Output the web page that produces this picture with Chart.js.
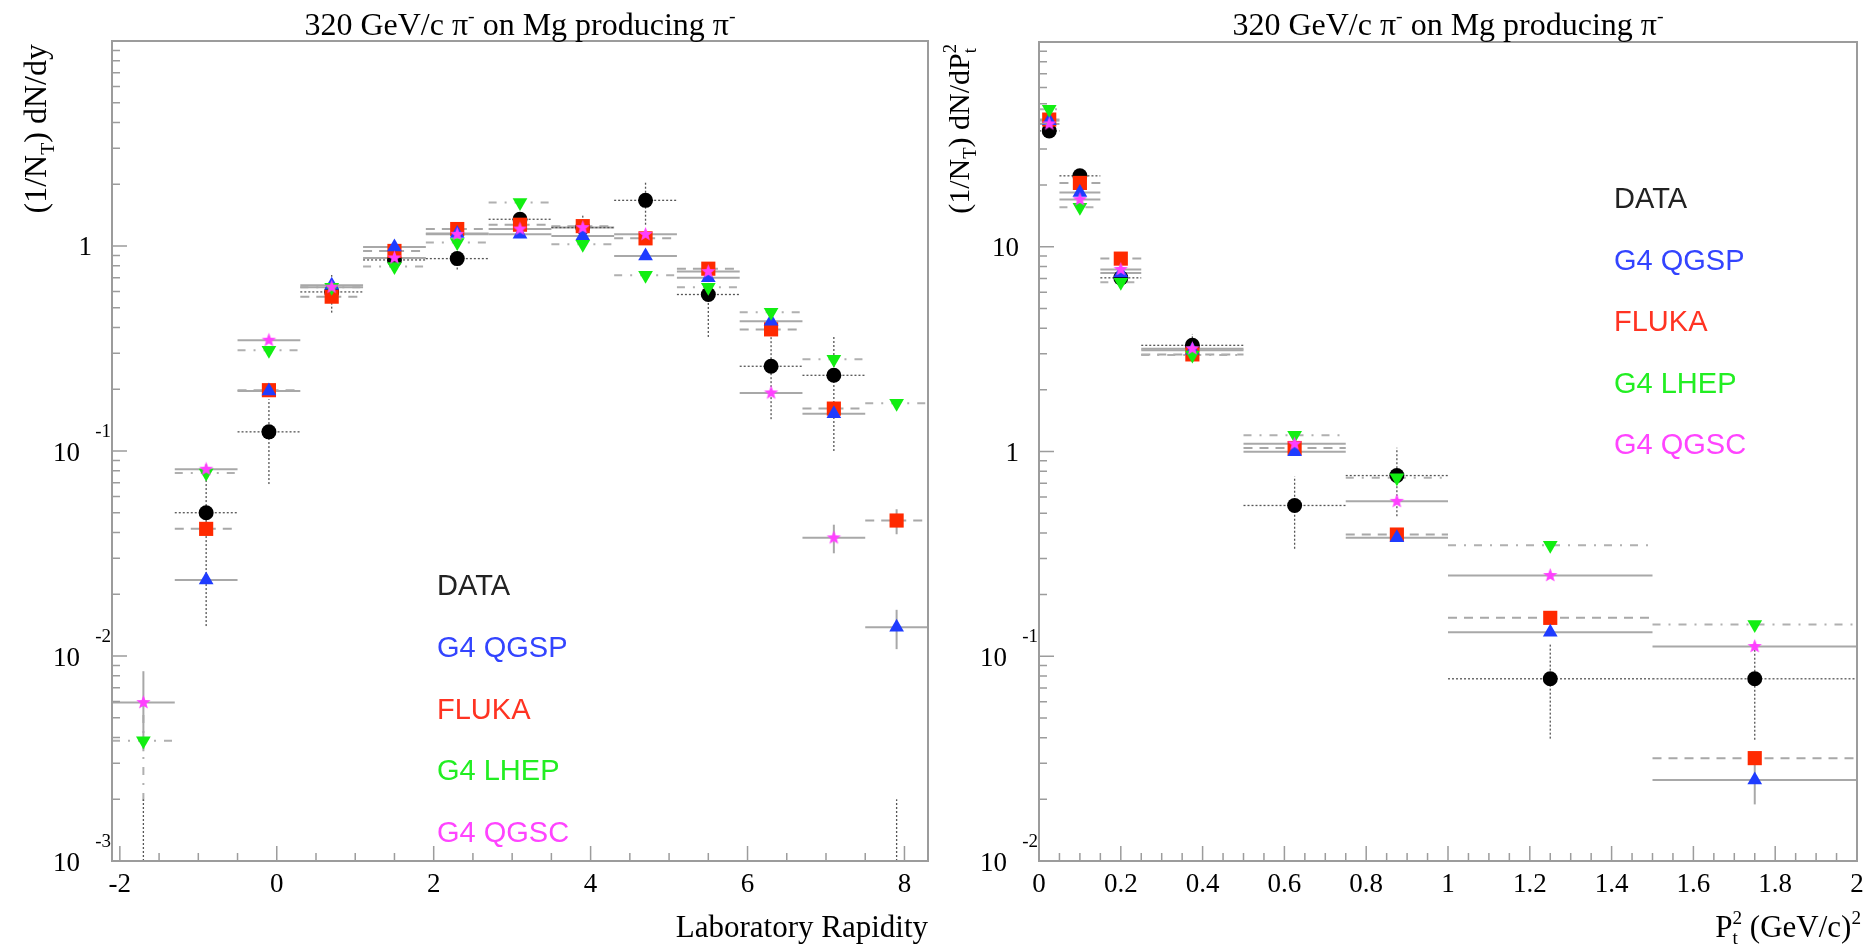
<!DOCTYPE html>
<html>
<head>
<meta charset="utf-8">
<script src="https://cdn.jsdelivr.net/npm/chart.js@4/dist/chart.umd.min.js"></script>
<style>
body{margin:0;background:#fff;}
#wrap{position:relative;width:1876px;height:949px;}
.pane{position:absolute;top:0;}
</style>
</head>
<body>
<div id="wrap">
  <canvas class="pane" id="c_rap" width="938" height="949" style="left:0"></canvas>
  <canvas class="pane" id="c_pt" width="938" height="949" style="left:938px"></canvas>
</div>
<script>
//------------------------------- data

const seriesNames = ['DATA', 'G4 QGSP', 'FLUKA', 'G4 LHEP', 'G4 QGSC'];

// laboratory rapidity bins
const rapCenters = [-1.7, -0.9, -0.1, 0.7, 1.5, 2.3, 3.1, 3.9, 4.7, 5.5, 6.3, 7.1, 7.9];
const rapHalf    = [0.4, 0.4, 0.4, 0.4, 0.4, 0.4, 0.4, 0.4, 0.4, 0.4, 0.4, 0.4, 0.4];

const rapData     = [0, 0.050, 0.124, 0.597, 0.855, 0.868, 1.35, 1.23, 1.67, 0.58, 0.259, 0.234, 0];
const rapDataErr  = [0.002, 0.036, 0.055, 0.124, 0.08, 0.10, 0.10, 0.18, 0.40, 0.22, 0.116, 0.134, 0.002];
const rapQGSP     = [0, 0.0235, 0.196, 0.643, 0.99, 1.15, 1.14, 1.12, 0.893, 0.70, 0.43, 0.152, 0.0138];
const rapQGSPErr  = [0, 0, 0, 0, 0, 0, 0, 0, 0, 0, 0, 0, 0.003];
const rapFLUKA    = [0, 0.0417, 0.198, 0.566, 0.946, 1.21, 1.27, 1.25, 1.09, 0.775, 0.392, 0.161, 0.0458];
const rapFLUKAErr = [0, 0, 0, 0, 0, 0, 0, 0, 0, 0, 0, 0, 0.0065];
const rapLHEP     = [0.00386, 0.078, 0.31, 0.63, 0.794, 1.04, 1.63, 1.02, 0.72, 0.63, 0.475, 0.28, 0.171];
const rapLHEPErr  = [0.0019, 0, 0, 0, 0, 0, 0, 0, 0, 0, 0, 0, 0];
const rapQGSC     = [0.00593, 0.0815, 0.347, 0.63, 0.875, 1.14, 1.21, 1.23, 1.14, 0.75, 0.192, 0.0377, 0];
const rapQGSCErr  = [0.0025, 0, 0, 0, 0, 0, 0, 0, 0, 0, 0, 0.006, 0];

// pt^2 bins
const ptCenters = [0.025, 0.1, 0.2, 0.375, 0.625, 0.875, 1.25, 1.75];
const ptHalf    = [0.025, 0.05, 0.05, 0.125, 0.125, 0.125, 0.25, 0.25];

const ptData     = [36.8, 22.2, 7.05, 3.30, 0.545, 0.763, 0.0776, 0.0776];
const ptDataErr  = [2.0, 1.5, 0.8, 0.45, 0.21, 0.28, 0.038, 0.0385];
const ptQGSP     = [41.3, 18.4, 7.45, 3.12, 0.997, 0.379, 0.131, 0.0249];
const ptQGSPErr  = [0, 0, 0, 0, 0, 0, 0, 0.006];
const ptFLUKA    = [41.8, 20.5, 8.75, 2.98, 1.04, 0.393, 0.154, 0.0318];
const ptFLUKAErr = [0, 0, 0, 0, 0, 0, 0, 0];
const ptLHEP     = [47.0, 15.6, 6.7, 2.96, 1.2, 0.745, 0.348, 0.143];
const ptLHEPErr  = [0, 0, 0, 0, 0, 0, 0, 0];
const ptQGSC     = [39.8, 17.0, 7.75, 3.18, 1.09, 0.571, 0.248, 0.1116];
const ptQGSCErr  = [0, 0, 0, 0, 0, 0, 0, 0];

// axis ticks
const rapTicks = [-2, 0, 2, 4, 6, 8];
const rapTickLabels = ['-2', '0', '2', '4', '6', '8'];
const ptTicks = [0, 0.2, 0.4, 0.6, 0.8, 1, 1.2, 1.4, 1.6, 1.8, 2];
const ptTickLabels = ['0', '0.2', '0.4', '0.6', '0.8', '1', '1.2', '1.4', '1.6', '1.8', '2'];
const rapDecades = [-3, -2, -1, 0];
const ptDecades = [-2, -1, 0, 1];

//------------------------------- styles

const SERIF = '"Liberation Serif", "DejaVu Serif", serif';
const SANS = '"Liberation Sans", "DejaVu Sans", sans-serif';

const legendColors = ['#222222', '#3344ff', '#ff3322', '#22ee22', '#ff44ff'];

function starImage(color, r){
    const c = document.createElement('canvas');
    const s = Math.ceil(r*2 + 2);
    c.width = s; c.height = s;
    const g = c.getContext('2d');
    g.fillStyle = color;
    g.beginPath();
    for (let i = 0; i < 10; i++) {
        const a = -Math.PI/2 + i*Math.PI/5;
        const rr = (i % 2) ? r*0.42 : r;
        g.lineTo(s/2 + rr*Math.cos(a), s/2 + rr*Math.sin(a));
    }
    g.closePath();
    g.fill();
    return c;
}

const markerStyle = [
    { pointStyle: 'circle',   radius: 7.5, rot: 0,   color: '#000000', order: 5,
      bar: { color: '#555555', dash: [2, 2],          width: 1.3 } },
    { pointStyle: 'triangle', radius: 8.5, rot: 0,   color: '#1f3cff', order: 3,
      bar: { color: '#a8a8a8', dash: [],              width: 2 } },
    { pointStyle: 'rect',     radius: 10,  rot: 0,   color: '#ff2a00', order: 4,
      bar: { color: '#a8a8a8', dash: [9, 7],          width: 2 } },
    { pointStyle: 'triangle', radius: 8.5, rot: 180, color: '#12ee12', order: 2,
      bar: { color: '#b0b0b0', dash: [8, 8, 2, 8],    width: 2 } },
    { pointStyle: starImage('#ff40ff', 7.5), radius: 7.5, rot: 0, color: '#ff40ff', order: 1,
      bar: { color: '#a8a8a8', dash: [],              width: 2 } }
];

function makeDatasets(centers, half, values, errs){
    return values.map(function(vals, s){
        const m = markerStyle[s];
        return {
            label: seriesNames[s],
            data: vals.map(function(v, i){ return { x: centers[i], y: v > 0 ? v : null }; }),
            values: vals,
            errs: errs[s],
            centers: centers,
            half: half,
            bar: m.bar,
            order: m.order,
            pointStyle: m.pointStyle,
            pointRadius: m.radius,
            pointRotation: m.rot,
            backgroundColor: m.color,
            borderColor: m.color,
            borderWidth: 0,
            showLine: false
        };
    });
}

//------------------------------- text helpers

// runs: {t, k:'sub'|'sup', stay}
function runsWidth(ctx, runs, size, family){
    let w = 0;
    for (const r of runs) {
        ctx.font = (r.k ? size*0.62 : size) + 'px ' + family;
        if (!r.stay) w += ctx.measureText(r.t).width;
    }
    return w;
}

function drawRuns(ctx, runs, x, y, size, family, align){
    const w = runsWidth(ctx, runs, size, family);
    let cx = align === 'right' ? x - w : (align === 'center' ? x - w/2 : x);
    ctx.textAlign = 'left';
    ctx.textBaseline = 'alphabetic';
    for (const r of runs) {
        ctx.font = (r.k ? size*0.62 : size) + 'px ' + family;
        const dy = r.k === 'sub' ? size*0.24 : (r.k === 'sup' ? -size*0.42 : 0);
        ctx.fillText(r.t, cx, y + dy);
        if (!r.stay) cx += ctx.measureText(r.t).width;
    }
}

//------------------------------- frame, axes, error bars

const frameAxes = {
    id: 'frameAxes',

    beforeDatasetsDraw(chart){
        const ctx = chart.ctx, xs = chart.scales.x, ys = chart.scales.y, a = chart.chartArea;
        ctx.save();
        ctx.beginPath();
        ctx.rect(a.left, a.top, a.right - a.left, a.bottom - a.top);
        ctx.clip();
        // models first, data bars last so the dotted ones stay on top
        const sets = chart.data.datasets.slice(1).concat([chart.data.datasets[0]]);
        for (const ds of sets) {
            ctx.strokeStyle = ds.bar.color;
            ctx.lineWidth = ds.bar.width;
            ctx.setLineDash(ds.bar.dash);
            ds.values.forEach(function(v, i){
                const c = ds.centers[i], h = ds.half[i], e = ds.errs[i];
                const px = xs.getPixelForValue(c);
                if (v > 0) {
                    const py = ys.getPixelForValue(v);
                    ctx.beginPath();
                    ctx.moveTo(xs.getPixelForValue(c - h), py);
                    ctx.lineTo(xs.getPixelForValue(c + h), py);
                    ctx.stroke();
                }
                if (e > 0) {
                    const lo = Math.max(v - e, ys.min);
                    ctx.beginPath();
                    ctx.moveTo(px, ys.getPixelForValue(lo));
                    ctx.lineTo(px, ys.getPixelForValue(v + e));
                    ctx.stroke();
                }
            });
        }
        ctx.restore();
    },

    afterDraw(chart, args, o){
        const ctx = chart.ctx, xs = chart.scales.x, ys = chart.scales.y, a = chart.chartArea;
        ctx.save();

        // frame
        ctx.strokeStyle = '#9c9c9c';
        ctx.lineWidth = 2;
        ctx.setLineDash([]);
        ctx.strokeRect(a.left, a.top, a.right - a.left, a.bottom - a.top);

        // x ticks
        ctx.lineWidth = 1.5;
        ctx.beginPath();
        for (let v = o.xStart; v <= xs.max + 1e-9; v += o.xMinor) {
            const major = Math.abs(v/o.xMajor - Math.round(v/o.xMajor)) < 1e-6;
            const px = xs.getPixelForValue(v);
            ctx.moveTo(px, a.bottom);
            ctx.lineTo(px, a.bottom - (major ? 15 : 8));
        }
        // y ticks, log decades
        const dMin = Math.floor(Math.log10(ys.min) + 1e-9), dMax = Math.ceil(Math.log10(ys.max));
        for (let d = dMin; d <= dMax; d++) {
            for (let k = 1; k <= 9; k++) {
                const v = k*Math.pow(10, d);
                if (v < ys.min*0.999 || v > ys.max*1.001) continue;
                const py = ys.getPixelForValue(v);
                ctx.moveTo(a.left, py);
                ctx.lineTo(a.left + (k === 1 ? 15 : 8), py);
            }
        }
        ctx.stroke();

        // tick labels
        ctx.fillStyle = '#000';
        ctx.textAlign = 'center';
        ctx.textBaseline = 'alphabetic';
        ctx.font = '27px ' + SERIF;
        o.xTicks.forEach(function(v, i){
            ctx.fillText(o.xLabels[i], xs.getPixelForValue(v), a.bottom + 31);
        });
        ctx.textAlign = 'right';
        ctx.textBaseline = 'middle';
        o.yDecades.forEach(function(d){
            const py = ys.getPixelForValue(Math.pow(10, d));
            if (d === 0 || d === 1) {
                ctx.font = '27px ' + SERIF;
                ctx.fillText(d === 0 ? '1' : '10', a.left - 20, py + 2);
            } else {
                ctx.font = '27px ' + SERIF;
                ctx.fillText('10', a.left - 32, py + 3);
                ctx.font = '19px ' + SERIF;
                ctx.fillText(String(d), a.left - 1, py - 19);
            }
        });

        // titles
        drawRuns(ctx, o.title, (a.left + a.right)/2, 35, 32, SERIF, 'center');
        drawRuns(ctx, o.xTitle, a.right + o.xTitleShift, 937, 31, SERIF, 'right');
        ctx.save();
        ctx.translate(o.yTitleX, 44);
        ctx.rotate(-Math.PI/2);
        drawRuns(ctx, o.yTitle, 0, 0, o.yTitleSize, SERIF, 'right');
        ctx.restore();

        // legend, text only
        ctx.font = '29px ' + SANS;
        ctx.textAlign = 'left';
        ctx.textBaseline = 'alphabetic';
        seriesNames.forEach(function(name, i){
            ctx.fillStyle = legendColors[i];
            ctx.fillText(name, o.legendX, o.legendY + i*o.legendStep);
        });

        ctx.restore();
    }
};

const titleRuns = [
    { t: '320 GeV/c \u03c0' }, { t: '-', k: 'sup' },
    { t: ' on Mg producing \u03c0' }, { t: '-', k: 'sup' }
];

function makeChart(id, cfg){
    return new Chart(document.getElementById(id), {
        type: 'scatter',
        data: { datasets: cfg.datasets },
        options: {
            responsive: false,
            animation: false,
            events: [],
            layout: { padding: cfg.padding },
            plugins: {
                legend: { display: false },
                tooltip: { enabled: false },
                frameAxes: cfg.axes
            },
            scales: {
                x: { type: 'linear', min: cfg.xMin, max: cfg.xMax, display: false },
                y: { type: 'logarithmic', min: cfg.yMin, max: cfg.yMax, display: false }
            }
        },
        plugins: [frameAxes]
    });
}

//------------------------------- rapidity panel

const rap_chart = makeChart('c_rap', {
    datasets: makeDatasets(rapCenters, rapHalf,
        [rapData, rapQGSP, rapFLUKA, rapLHEP, rapQGSC],
        [rapDataErr, rapQGSPErr, rapFLUKAErr, rapLHEPErr, rapQGSCErr]),
    padding: { left: 112, right: 2, top: 41, bottom: 88 },
    xMin: -2.1, xMax: 8.3, yMin: 0.001, yMax: 10,
    axes: {
        xStart: -2, xMinor: 0.5, xMajor: 2,
        xTicks: rapTicks, xLabels: rapTickLabels, yDecades: rapDecades,
        title: titleRuns,
        xTitle: [{ t: 'Laboratory Rapidity' }], xTitleShift: 0,
        yTitle: [{ t: '(1/N' }, { t: 'T', k: 'sub' }, { t: ') dN/dy' }], yTitleX: 46, yTitleSize: 32,
        legendX: 437, legendY: 595, legendStep: 61.8
    }
});

//------------------------------- pt^2 panel

const pt_chart = makeChart('c_pt', {
    datasets: makeDatasets(ptCenters, ptHalf,
        [ptData, ptQGSP, ptFLUKA, ptLHEP, ptQGSC],
        [ptDataErr, ptQGSPErr, ptFLUKAErr, ptLHEPErr, ptQGSCErr]),
    padding: { left: 101, right: 19, top: 42, bottom: 88 },
    xMin: 0, xMax: 2, yMin: 0.01, yMax: 100,
    axes: {
        xStart: 0, xMinor: 0.05, xMajor: 0.2,
        xTicks: ptTicks, xLabels: ptTickLabels, yDecades: ptDecades,
        title: titleRuns,
        xTitle: [{ t: 'P' }, { t: 't', k: 'sub', stay: true }, { t: '2', k: 'sup' },
                 { t: ' (GeV/c)' }, { t: '2', k: 'sup' }], xTitleShift: 4,
        yTitle: [{ t: '(1/N' }, { t: 'T', k: 'sub' }, { t: ') dN/dP' },
                 { t: 't', k: 'sub', stay: true }, { t: '2', k: 'sup' }], yTitleX: 31, yTitleSize: 30,
        legendX: 676, legendY: 208, legendStep: 61.5
    }
});
</script>
</body>
</html>
